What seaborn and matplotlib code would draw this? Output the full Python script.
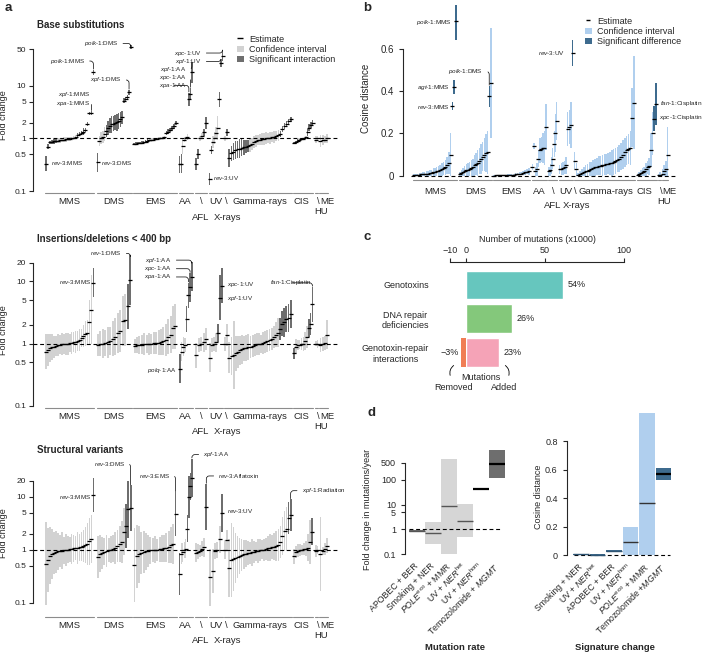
import numpy as np
import pandas as pd
import seaborn as sns
import matplotlib.pyplot as plt
from matplotlib.patches import Patch, FancyArrowPatch
from matplotlib.lines import Line2D
import matplotlib.transforms as mtransforms

# ---------------- data ----------------
groups = ["MMS", "DMS", "EMS", "AA", "AFL", "UV", "X-rays", "Gamma-rays", "CIS", "HU", "ME"]

# panel a: fold change estimates per group (sorted) and CI fold (est/ci .. est*ci)
sub_est = [
    [0.33, 0.7, 0.84, 0.86, 0.88, 0.9, 0.91, 0.92, 0.93, 0.95, 0.96, 0.97, 0.98, 1.0, 1.02, 1.05, 1.15, 1.22, 1.28, 1.35, 1.45, 1.9, 3.0, 3.05, 18],
    [0.35, 0.9, 1.0, 1.05, 1.2, 1.4, 1.6, 1.75, 1.85, 1.9, 2.0, 2.05, 2.15, 2.3, 2.5, 5.2, 5.5, 6.0, 7.5, 55],
    [0.78, 0.8, 0.81, 0.82, 0.83, 0.85, 0.87, 0.9, 0.92, 0.94, 0.95, 0.97, 0.98, 1.0, 1.0, 1.02, 1.05, 1.25, 1.35, 1.45, 1.55, 1.7, 1.95],
    [0.32, 0.33, 0.72, 0.95, 1.0, 1.05, 5.5, 7.0, 18],
    [0.33, 0.5, 1.0, 1.1, 1.3, 2.0],
    [0.17, 0.6, 0.85, 1.0, 1.25, 1.6, 5.5, 27, 37],
    [1.0, 1.3],
    [0.42, 0.52, 0.56, 0.6, 0.62, 0.64, 0.66, 0.68, 0.7, 0.72, 0.76, 0.8, 0.85, 0.88, 0.92, 0.95, 0.97, 0.99, 1.0, 1.02, 1.04, 1.06, 1.08, 1.1, 1.14, 1.2, 1.5, 1.7, 1.9, 2.1, 2.3],
    [0.82, 0.84, 0.9, 0.95, 0.97, 0.98, 1.0, 1.05, 1.3, 1.6, 1.8, 2.0],
    [0.95, 1.0],
    [0.88, 0.92, 0.95, 1.0],
]
sub_ci = [
    [1.4, 1.12, 1.08, 1.08, 1.1, 1.1, 1.1, 1.12, 1.1, 1.1, 1.12, 1.1, 1.1, 1.08, 1.08, 1.1, 1.12, 1.1, 1.1, 1.15, 1.1, 1.1, 1.08, 1.08, 1.12],
    [1.5, 1.25, 1.3, 1.3, 1.35, 1.3, 1.35, 1.4, 1.45, 1.4, 1.4, 1.45, 1.4, 1.4, 1.35, 1.12, 1.12, 1.1, 1.12, 1.08],
    [1.06, 1.06, 1.05, 1.05, 1.06, 1.06, 1.08, 1.08, 1.1, 1.1, 1.08, 1.06, 1.05, 1.05, 1.05, 1.06, 1.08, 1.1, 1.1, 1.1, 1.1, 1.12, 1.08],
    [1.45, 1.5, 1.4, 1.1, 1.05, 1.15, 1.35, 1.3, 1.6],
    [1.3, 1.25, 1.1, 1.15, 1.15, 1.3],
    [1.3, 1.2, 1.3, 1.3, 1.3, 1.7, 1.4, 1.2, 1.25],
    [1.1, 1.15],
    [1.5, 1.4, 1.45, 1.5, 1.45, 1.5, 1.45, 1.4, 1.35, 1.3, 1.35, 1.3, 1.3, 1.3, 1.25, 1.25, 1.3, 1.3, 1.3, 1.25, 1.3, 1.25, 1.3, 1.25, 1.25, 1.15, 1.15, 1.15, 1.12, 1.12, 1.1],
    [1.06, 1.06, 1.08, 1.06, 1.05, 1.04, 1.04, 1.06, 1.15, 1.15, 1.12, 1.1],
    [1.15, 1.12],
    [1.3, 1.25, 1.15, 1.2],
]

ind_est = [
    [0.75, 0.8, 0.85, 0.88, 0.9, 0.93, 0.95, 0.97, 0.98, 1.0, 1.0, 1.0, 1.02, 1.03, 1.05, 1.07, 1.1, 1.15, 1.25, 1.35, 1.45, 1.5, 2.2, 3.5, 9.5],
    [0.95, 1.0, 1.0, 1.02, 1.05, 1.1, 1.2, 1.3, 1.5, 1.6, 2.3, 2.4, 4.0, 10.5],
    [0.93, 0.95, 0.96, 0.97, 0.98, 1.0, 1.0, 1.0, 1.01, 1.02, 1.04, 1.06, 1.1, 1.15, 1.3, 1.4, 1.8, 1.9],
    [0.4, 0.75, 0.9, 0.95, 2.5, 6.0, 8.0, 12.0],
    [0.65, 0.95, 1.0, 1.05, 1.2],
    [0.6, 0.95, 1.0, 1.05, 1.5, 5.5, 8.5],
    [1.0, 1.4],
    [0.6, 0.63, 0.66, 0.7, 0.74, 0.78, 0.81, 0.84, 0.86, 0.88, 0.9, 0.93, 0.96, 0.98, 1.0, 1.0, 1.02, 1.05, 1.1, 1.15, 1.2, 1.3, 1.4, 1.5, 1.7, 2.1, 2.2, 2.5, 2.6, 3.0],
    [0.7, 0.9, 0.95, 0.97, 1.0, 1.0, 1.1, 1.3, 1.8, 2.1, 4.3],
    [1.0, 1.0],
    [0.95, 1.0, 1.02, 1.4],
]
ind_ci = [
    [1.9, 1.8, 1.7, 1.6, 1.5, 1.45, 1.5, 1.4, 1.5, 1.45, 1.5, 1.5, 1.4, 1.5, 1.45, 1.5, 1.45, 1.5, 1.4, 1.5, 1.6, 1.6, 2.3, 3.6, 1.7],
    [1.5, 1.6, 1.7, 1.6, 1.8, 1.7, 1.9, 2.0, 2.1, 2.2, 2.5, 2.6, 2.3, 2.5],
    [1.3, 1.35, 1.4, 1.4, 1.5, 1.4, 1.5, 1.45, 1.5, 1.5, 1.6, 1.6, 1.7, 1.8, 1.9, 2.0, 2.2, 2.3],
    [1.7, 1.4, 1.4, 1.3, 1.6, 1.6, 1.7, 1.7],
    [1.6, 1.3, 1.3, 1.4, 1.5],
    [1.7, 1.3, 1.3, 1.4, 1.4, 2.3, 1.9],
    [1.3, 1.5],
    [1.8, 2.0, 3.5, 1.9, 1.8, 1.7, 1.7, 1.6, 1.6, 1.6, 1.5, 1.5, 1.5, 1.5, 1.5, 1.4, 1.5, 1.5, 1.5, 1.5, 1.5, 1.5, 1.6, 1.7, 1.5, 1.6, 1.7, 1.6, 1.7, 1.7],
    [1.22, 1.3, 1.2, 1.2, 1.25, 1.3, 1.4, 1.5, 1.4, 1.5, 1.9],
    [1.1, 1.15],
    [1.3, 1.3, 1.3, 1.7],
]

sv_est = [
    [0.55, 0.65, 0.78, 0.83, 0.87, 0.9, 0.93, 0.95, 0.97, 0.98, 1.0, 1.0, 1.02, 1.04, 1.06, 1.08, 1.1, 1.12, 1.15, 1.2, 1.25, 1.3, 1.45, 1.6, 11.0],
    [0.72, 0.85, 0.88, 0.92, 0.96, 1.0, 1.0, 1.05, 1.1, 1.2, 1.3, 1.4, 2.2, 2.8, 5.8, 6.1],
    [0.52, 0.75, 0.82, 0.87, 0.9, 0.93, 0.96, 0.98, 1.0, 1.0, 1.0, 1.02, 1.04, 1.06, 1.1, 1.15, 1.22, 1.3, 4.7],
    [0.35, 0.85, 0.9, 1.0, 1.05, 2.5, 10.0, 16.0, 23.0],
    [0.88, 0.92, 0.96, 1.05, 1.12, 6.5],
    [0.3, 0.4, 0.95, 1.0, 1.6, 5.0],
    [1.0, 1.5],
    [0.45, 0.65, 0.68, 0.7, 0.73, 0.76, 0.79, 0.82, 0.84, 0.86, 0.88, 0.9, 0.92, 0.94, 0.96, 0.98, 1.0, 1.0, 1.03, 1.06, 1.1, 1.12, 1.15, 1.18, 1.25, 1.4, 1.8, 2.3, 2.5, 4.0, 4.5],
    [0.75, 0.9, 0.97, 1.0, 1.0, 1.02, 1.05, 1.1, 1.4, 2.2],
    [0.95, 1.0],
    [0.82, 0.95, 1.05, 1.2],
]
sv_ci = [
    [6, 4, 3.5, 3.0, 2.5, 2.5, 2.2, 2.0, 2.2, 1.8, 2.0, 1.8, 1.7, 1.9, 1.8, 1.7, 2.0, 1.8, 1.9, 2.0, 2.2, 2.5, 2.8, 2.8, 2.1],
    [2.5, 2.2, 2.0, 1.8, 2.0, 1.7, 1.8, 1.8, 2.0, 2.0, 2.2, 2.5, 2.8, 2.6, 3.5, 2.7],
    [5, 4, 3.5, 2.5, 2.5, 2.2, 2.0, 1.8, 1.7, 1.8, 1.6, 1.7, 1.8, 1.8, 1.9, 2.0, 2.2, 2.4, 2.6],
    [2.5, 1.6, 1.5, 1.4, 1.5, 1.8, 2.5, 1.8, 2.3],
    [1.5, 1.4, 1.3, 1.4, 1.5, 2.7],
    [3.5, 2.6, 1.4, 1.4, 1.8, 2.3],
    [1.5, 1.6],
    [3.5, 5, 4, 3, 2.5, 2.2, 2.0, 1.9, 1.8, 1.7, 1.6, 1.8, 1.6, 1.5, 1.7, 1.6, 1.5, 1.6, 1.6, 1.7, 1.8, 1.7, 1.8, 1.9, 2.0, 2.0, 2.3, 2.4, 2.6, 2.0, 2.0],
    [1.4, 1.3, 1.3, 1.3, 1.25, 1.3, 1.4, 1.8, 2.6, 1.8],
    [1.3, 1.2],
    [5, 1.2, 1.3, 1.4],
]

# panel b: cosine distance estimate and CI half width
cos_est = [
    [0.002, 0.003, 0.004, 0.005, 0.006, 0.007, 0.008, 0.009, 0.01, 0.012, 0.014, 0.016, 0.018, 0.02, 0.022, 0.025, 0.03, 0.035, 0.04, 0.05, 0.06, 0.1, 0.33, 0.42, 0.73],
    [0.008, 0.012, 0.016, 0.02, 0.025, 0.028, 0.03, 0.035, 0.04, 0.05, 0.055, 0.06, 0.07, 0.08, 0.09, 0.1, 0.105, 0.11, 0.375, 0.44],
    [0.0005, 0.001, 0.001, 0.0015, 0.002, 0.002, 0.0025, 0.003, 0.003, 0.004, 0.005, 0.006, 0.007, 0.008, 0.01, 0.012, 0.015, 0.018, 0.02],
    [0.04, 0.14, 0.02, 0.03, 0.08, 0.12, 0.125, 0.13, 0.13, 0.23],
    [0.02, 0.025, 0.05, 0.08, 0.15, 0.2, 0.26],
    [0.03, 0.032, 0.035, 0.04, 0.05, 0.22, 0.23, 0.24, 0.58],
    [0.07, 0.03],
    [0.004, 0.008, 0.012, 0.016, 0.02, 0.024, 0.028, 0.032, 0.036, 0.04, 0.043, 0.046, 0.048, 0.05, 0.052, 0.054, 0.056, 0.058, 0.06, 0.065, 0.07, 0.075, 0.08, 0.09, 0.1, 0.11, 0.12, 0.125, 0.13, 0.275, 0.345],
    [0.002, 0.008, 0.012, 0.016, 0.02, 0.03, 0.04, 0.045, 0.12, 0.2, 0.27, 0.34],
    [0.002, 0.005],
    [0.01, 0.02, 0.03, 0.1],
]
cos_hw = [
    [0.004, 0.005, 0.006, 0.008, 0.008, 0.01, 0.01, 0.012, 0.012, 0.015, 0.015, 0.02, 0.02, 0.02, 0.025, 0.025, 0.03, 0.03, 0.035, 0.04, 0.05, 0.1, 0.02, 0.035, 0.09],
    [0.01, 0.015, 0.02, 0.025, 0.03, 0.03, 0.035, 0.04, 0.04, 0.05, 0.05, 0.06, 0.06, 0.07, 0.07, 0.08, 0.09, 0.1, 0.05, 0.26],
    [0.001, 0.001, 0.001, 0.0015, 0.002, 0.002, 0.002, 0.003, 0.003, 0.004, 0.005, 0.005, 0.006, 0.007, 0.008, 0.008, 0.01, 0.012, 0.015],
    [0.015, 0.015, 0.02, 0.03, 0.04, 0.06, 0.06, 0.07, 0.08, 0.11],
    [0.02, 0.03, 0.04, 0.05, 0.06, 0.09, 0.09],
    [0.02, 0.03, 0.03, 0.03, 0.04, 0.08, 0.08, 0.11, 0.06],
    [0.04, 0.03],
    [0.01, 0.015, 0.02, 0.025, 0.03, 0.03, 0.035, 0.035, 0.04, 0.04, 0.04, 0.045, 0.045, 0.05, 0.05, 0.05, 0.05, 0.055, 0.06, 0.06, 0.06, 0.06, 0.065, 0.065, 0.07, 0.07, 0.07, 0.07, 0.08, 0.14, 0.22],
    [0.004, 0.01, 0.015, 0.02, 0.02, 0.03, 0.03, 0.04, 0.08, 0.1, 0.06, 0.1],
    [0.005, 0.01],
    [0.02, 0.03, 0.04, 0.13],
]

# panel c
c_labels = ["Genotoxins", "DNA repair\ndeficiencies", "Genotoxin-repair\ninteractions"]
c_added = [61.5, 29.2, 21.0]
c_removed = [0.0, 0.0, -2.9]
c_pct = ["54%", "26%", "23%"]
c_removed_pct = "\u22123%"

# panel d
d_rate_labels = ["APOBEC + BER", "Smoking + NER", r"$\mathit{POLE}^{\rm exo}$ + MMR",
                 r"UV + $\mathit{NER}^{\rm het}$", r"UV + $\mathit{NER}^{\rm hom}$", r"Temozolomide + $\mathit{MGMT}$"]
d_rate_est = [0.87, 0.73, 8.9, 2.3, 42, 460]
d_rate_lo = [0.8, 0.27, 0.105, 0.5, 38, 125]
d_rate_hi = [0.95, 2.0, 700, 10.5, 48, 1600]
d_rate_sig = [True, False, False, False, True, True]

d_sig_labels = ["Smoking + NER", r"UV + $\mathit{NER}^{\rm het}$", "APOBEC + BER",
                r"UV + $\mathit{NER}^{\rm hom}$", r"$\mathit{POLE}^{\rm exo}$ + MMR", r"Temozolomide +$\mathit{MGMT}$"]
d_sig_est = [0.004, 0.002, 0.028, 0.091, 0.363, 0.567]
d_sig_lo = [0.0, 0.0, 0.024, 0.0, 0.0, 0.53]
d_sig_hi = [0.008, 0.004, 0.034, 0.2, 1.0, 0.61]
d_sig_sig = [True, True, True, False, False, True]

# ---------------- layout ----------------
W, H = 706, 654
a_spans = [(135, 283), (290, 395), (400, 530), (537, 578), (585, 622), (627, 670),
           (673, 683), (685, 875), (880, 940), (945, 955), (958, 985)]
b_spans = [(160, 290), (297, 395), (400, 510), (515, 560), (565, 592), (597, 640),
           (643, 650), (652, 825), (830, 890), (893, 903), (905, 925)]

GREY_L, GREY_D = "#d2d2d2", "#6e6e6e"
BLUE_L, BLUE_D = "#b0cfee", "#3e6b8e"
NOTE_FS = 4.5

sns.set_theme(style="ticks")
plt.rcParams["font.family"] = ["Liberation Sans", "DejaVu Sans"]
plt.rcParams["mathtext.fontset"] = "custom"
plt.rcParams["mathtext.rm"] = "Liberation Sans"
plt.rcParams["mathtext.it"] = "Liberation Sans:italic"
plt.rcParams["mathtext.bf"] = "Liberation Sans:bold"
plt.rcParams["axes.linewidth"] = 0.8
plt.rcParams["xtick.major.width"] = 0.8
plt.rcParams["ytick.major.width"] = 0.8
plt.rcParams["xtick.major.size"] = 3
plt.rcParams["ytick.major.size"] = 3

fig = plt.figure(figsize=(W / 100, H / 100), dpi=100)


def px_axes(l, t, r, b):
    return fig.add_axes([l / W, 1 - b / H, (r - l) / W, (b - t) / H])


def build(est, err, spans, log=True):
    rows = []
    for g, ev, cv, (s, e) in zip(groups, est, err, spans):
        assert len(ev) == len(cv), g
        step = (e - s) / len(ev)
        for i, (v, c) in enumerate(zip(ev, cv)):
            lo, hi = (v / c, v * c) if log else (max(0.0, v - c), v + c)
            rows.append(dict(group=g, idx=i, n=len(ev), x=s + (i + 0.5) * step,
                             est=v, lo=lo, hi=hi, w=step * 0.85))
    return pd.DataFrame(rows)


def pick(df, grp, idx):
    sub = df[df.group == grp]
    return sub.iloc[idx]


def draw_points(ax, df, light, dark):
    for flag, col in [(False, light), (True, dark)]:
        d = df[df.sig == flag]
        ax.bar(d.x, d.hi - d.lo, bottom=d.lo, width=d.w, color=col, linewidth=0, zorder=2)
    sns.scatterplot(data=df, x="x", y="est", marker="_", color="black", s=9,
                    linewidth=0.9, ax=ax, legend=False, zorder=4)
    ax.set_xlabel("")
    ax.set_ylabel("")


def group_axis(ax, spans, t_px, b_px, seg_px, r1, r2, rhu, fs, me_dx=9):
    def fr(y):
        return (b_px - y) / (b_px - t_px)
    tr = mtransforms.blended_transform_factory(ax.transData, ax.transAxes)
    for g, (s, e) in zip(groups, spans):
        ax.plot([s, e], [fr(seg_px)] * 2, color="#8c8c8c", lw=0.8, transform=tr, clip_on=False)
        c = (s + e) / 2
        if g in ("AFL", "X-rays"):
            ax.text(c, fr(seg_px + r1), "\\", transform=tr, ha="center", va="center", fontsize=fs)
            ax.text(c + (0 if g == "AFL" else 4), fr(seg_px + r2), g, transform=tr, ha="center", va="center", fontsize=fs)
        elif g == "HU":
            ax.text(c + 6, fr(seg_px + r1), "\\", transform=tr, ha="center", va="center", fontsize=fs)
            ax.text(c + 14, fr(seg_px + rhu), g, transform=tr, ha="center", va="center", fontsize=fs)
        elif g == "ME":
            ax.text(c + me_dx, fr(seg_px + r1), g, transform=tr, ha="center", va="center", fontsize=fs)
        elif g == "CIS":
            ax.text(c - 6, fr(seg_px + r1), g, transform=tr, ha="center", va="center", fontsize=fs)
        else:
            ax.text(c, fr(seg_px + r1), g, transform=tr, ha="center", va="center", fontsize=fs)


def glabel(gene, cond):
    a, b = gene.split("-")
    return rf"$\mathit{{{a}}}$-$\mathit{{{b}}}$:{cond}"


def note(ax, df, gene, cond, grp, idx, tx, ty, ha, line, fs=NOTE_FS):
    r = pick(df, grp, idx)
    lab = glabel(gene, cond)
    if line:
        ax.annotate(lab, xy=(r.x, r.hi), xytext=(tx, ty), ha=ha, va="center", fontsize=fs,
                    annotation_clip=False, zorder=5,
                    arrowprops=dict(arrowstyle="-", lw=0.5, color="black", shrinkA=1, shrinkB=0.5,
                                    connectionstyle="angle,angleA=0,angleB=90,rad=3"))
    else:
        ax.text(tx, ty, lab, ha=ha, va="center", fontsize=fs, zorder=5)


# ---------------- panel a ----------------
a_specs = [
    ("Base substitutions", sub_est, sub_ci, (33, 36, 330, 195), 193, (0.084, 88.5), [0.1, 0.5, 1, 2, 5, 10, 50], 25),
    ("Insertions/deletions < 400 bp", ind_est, ind_ci, (33, 252, 330, 409), 407.7, (0.0895, 29.7), [0.1, 0.5, 1, 2, 5, 10, 20], 239),
    ("Structural variants", sv_est, sv_ci, (33, 455, 330, 612), 616.7, (0.0667, 62), [0.1, 0.5, 1, 2, 5, 10, 20], 450),
]
a_axes = []
a_dfs = []
for title, est, ci, (l, t, r, b), seg, ylim, ticks, ty in a_specs:
    ax = px_axes(l, t, r, b)
    df = build(est, ci, a_spans, log=True)
    df["sig"] = (df.lo > 1) | (df.hi < 1)
    draw_points(ax, df, GREY_L, GREY_D)
    ax.set_yscale("log")
    ax.set_ylim(*ylim)
    ax.set_xlim(99, 990)
    ax.axhline(1, color="black", lw=0.8, ls=(0, (3.5, 2.5)), xmin=0, xmax=1.03, clip_on=False, zorder=3)
    ax.set_yticks(ticks)
    ax.set_yticklabels([f"{v:g}" for v in ticks], fontsize=6)
    ax.yaxis.set_minor_locator(plt.NullLocator())
    ax.set_xticks([])
    for s in ["top", "right", "bottom"]:
        ax.spines[s].set_visible(False)
    ax.spines["left"].set_bounds(ticks[0], ticks[-1])
    ax.tick_params(axis="y", pad=2)
    ax.set_ylabel("Fold change", fontsize=6.5)
    ax.yaxis.set_label_coords(-0.085, 0.5)
    group_axis(ax, a_spans, t, b, seg, 9, 24, 19, 6.8)
    fig.text(37 / W, 1 - ty / H, title, fontsize=7, weight="bold", va="center")
    a_axes.append(ax)
    a_dfs.append(df)

ax, df = a_axes[0], a_dfs[0]
note(ax, df, "polk-1", "DMS", "DMS", -1, 355, 64, "right", True)
note(ax, df, "polk-1", "MMS", "MMS", -1, 255, 29.6, "right", True)
note(ax, df, "xpf-1", "DMS", "DMS", -2, 365, 12.9, "right", True)
note(ax, df, "xpf-1", "MMS", "MMS", -2, 270, 6.8, "right", True)
note(ax, df, "xpa-1", "MMS", "MMS", -3, 270, 4.7, "right", True)
note(ax, df, "rev-3", "MMS", "MMS", 0, 152, 0.335, "left", False)
note(ax, df, "rev-3", "DMS", "DMS", 0, 303, 0.34, "left", False)
note(ax, df, "xpc-1", "UV", "UV", -1, 605, 42, "right", True)
note(ax, df, "xpf-1", "UV", "UV", -2, 605, 29, "right", True)
note(ax, df, "xpf-1", "AA", "AA", -1, 560, 20.5, "right", True)
note(ax, df, "xpc-1", "AA", "AA", -2, 560, 14.5, "right", True)
note(ax, df, "xpa-1", "AA", "AA", -3, 560, 10.2, "right", True)
note(ax, df, "rev-3", "UV", "UV", 0, 640, 0.174, "left", False)

ax, df = a_axes[1], a_dfs[1]
note(ax, df, "rev-1", "DMS", "DMS", -1, 365, 28.2, "right", True)
note(ax, df, "rev-3", "MMS", "MMS", -1, 275, 9.7, "right", False)
note(ax, df, "xpf-1", "AA", "AA", -1, 515, 22, "right", True)
note(ax, df, "xpc-1", "AA", "AA", -2, 515, 16, "right", True)
note(ax, df, "xpa-1", "AA", "AA", -3, 515, 11.8, "right", True)
note(ax, df, "xpc-1", "UV", "UV", -1, 680, 8.8, "left", False)
note(ax, df, "xpf-1", "UV", "UV", -2, 680, 5.35, "left", False)
note(ax, df, "fan-1", "Cisplatin", "CIS", -1, 935, 9.5, "right", True)
note(ax, df, "polq-1", "AA", "AA", 0, 530, 0.37, "right", False)

ax, df = a_axes[2], a_dfs[2]
note(ax, df, "rev-3", "DMS", "DMS", -1, 375, 41.9, "right", True)
note(ax, df, "rev-3", "MMS", "MMS", -1, 275, 10.1, "right", False)
note(ax, df, "rev-3", "EMS", "EMS", -1, 510, 24.9, "right", True)
note(ax, df, "xpf-1", "AA", "AA", -1, 610, 63, "left", True)
note(ax, df, "rev-3", "Aflatoxin", "AFL", -1, 655, 24.9, "left", True)
note(ax, df, "rev-3", "UV", "UV", -1, 680, 5.3, "left", False)
note(ax, df, "xpf-1", "Radiation", "Gamma-rays", -1, 905, 13.1, "left", True)

a_axes[0].legend(
    handles=[Line2D([], [], marker="_", color="black", ls="None", markersize=4, markeredgewidth=1),
             Patch(facecolor=GREY_L, edgecolor="none"), Patch(facecolor=GREY_D, edgecolor="none")],
    labels=["Estimate", "Confidence interval", "Significant interaction"],
    loc="upper left", bbox_to_anchor=(232 / W, 1 - 30 / H), bbox_transform=fig.transFigure,
    frameon=False, fontsize=6.5, handlelength=0.8, handleheight=0.7, handletextpad=0.6,
    labelspacing=0.15, borderpad=0)

# ---------------- panel b ----------------
axb = px_axes(403, 5, 680, 182)
dfb = build(cos_est, cos_hw, b_spans, log=False)
dfb["sig"] = False
b_notes = [
    ("polk-1", "MMS", "MMS", -1, 275, 0.727, "right", False),
    ("agt-1", "MMS", "MMS", -2, 270, 0.417, "right", False),
    ("rev-3", "MMS", "MMS", -3, 270, 0.327, "right", False),
    ("polk-1", "DMS", "DMS", -2, 370, 0.493, "right", True),
    ("rev-3", "UV", "UV", -1, 615, 0.58, "right", False),
    ("fan-1", "Cisplatin", "CIS", -1, 900, 0.343, "left", False),
    ("xpc-1", "Cisplatin", "CIS", -2, 897, 0.275, "left", False),
]
for gene, cond, grp, idx, *_ in b_notes:
    sub = dfb[dfb.group == grp]
    dfb.loc[sub.index[idx], "sig"] = True
draw_points(axb, dfb, BLUE_L, BLUE_D)
axb.set_xlim(129, 960)
axb.set_ylim(-0.03, 0.808)
axb.axhline(0, color="black", lw=0.8, ls=(0, (3.5, 2.5)), xmin=0.03, xmax=0.99, zorder=3)
axb.set_yticks([0, 0.2, 0.4, 0.6])
axb.set_yticklabels(["0", "0.2", "0.4", "0.6"], fontsize=7)
axb.set_xticks([])
for s in ["top", "right", "bottom"]:
    axb.spines[s].set_visible(False)
axb.spines["left"].set_bounds(0, 0.6)
axb.set_ylabel("Cosine distance", fontsize=7)
axb.yaxis.set_label_coords(-0.115, 0.47)
group_axis(axb, b_spans, 5, 182, 180, 12, 26, 22, 6.8, me_dx=13)
for gene, cond, grp, idx, tx, ty, ha, line in b_notes:
    note(axb, dfb, gene, cond, grp, idx, tx, ty, ha, line, fs=4.6)
axb.legend(
    handles=[Line2D([], [], marker="_", color="black", ls="None", markersize=3, markeredgewidth=1),
             Patch(facecolor=BLUE_L, edgecolor="none"), Patch(facecolor=BLUE_D, edgecolor="none")],
    labels=["Estimate", "Confidence interval", "Significant difference"],
    loc="upper left", bbox_to_anchor=(580 / W, 1 - 12 / H), bbox_transform=fig.transFigure,
    frameon=False, fontsize=6.5, handlelength=0.8, handleheight=0.7, handletextpad=0.6,
    labelspacing=0.15, borderpad=0)

# ---------------- panel c ----------------
axc = px_axes(450, 261.7, 624.3, 370)
c_colors = ["#66c6be", "#84c87b", "#f5a3b7"]
sns.barplot(x=c_added, y=c_labels, hue=c_labels, palette=c_colors, legend=False,
            width=0.85, orient="h", saturation=1, ax=axc)
axc.barh(range(len(c_removed)), c_removed, height=0.85, color="#f07d55", linewidth=0)
axc.set_xlim(-10, 100)
axc.set_ylim(2.525, -0.69)
axc.xaxis.tick_top()
axc.xaxis.set_label_position("top")
axc.set_xticks([-10, 0, 50, 100])
axc.set_xticklabels(["\u221210", "0", "50", "100"], fontsize=6.5)
axc.tick_params(axis="x", pad=1.5)
axc.set_xlabel("Number of mutations (x1000)", fontsize=6.5, labelpad=3)
for s in ["bottom", "right", "left"]:
    axc.spines[s].set_visible(False)
axc.spines["top"].set_bounds(-10, 100)
axc.tick_params(axis="y", length=0, pad=15, labelsize=6.5)
for tl in axc.get_yticklabels():
    tl.set_multialignment("center")
axc.set_ylabel("")
for i, (v, p) in enumerate(zip(c_added, c_pct)):
    axc.text(v + 2.5, i, p, va="center", ha="left", fontsize=6.5)
axc.text(c_removed[2] - 1.2, 2, c_removed_pct, va="center", ha="right", fontsize=6.5)


def fpt(x, y):
    return (x / W, 1 - y / H)


fig.add_artist(FancyArrowPatch(fpt(456, 364), fpt(451, 378), transform=fig.transFigure,
                               arrowstyle="-", connectionstyle="arc3,rad=0.45", lw=0.6, color="black"))
fig.add_artist(FancyArrowPatch(fpt(503, 364), fpt(508, 378), transform=fig.transFigure,
                               arrowstyle="-", connectionstyle="arc3,rad=-0.45", lw=0.6, color="black"))
fig.text(*fpt(481, 377), "Mutations", ha="center", va="center", fontsize=6.5)
fig.text(*fpt(454, 387), "Removed", ha="center", va="center", fontsize=6.5)
fig.text(*fpt(504, 387), "Added", ha="center", va="center", fontsize=6.5)

# ---------------- panel d ----------------
axd1 = px_axes(405, 440, 506, 556)
xd = np.arange(len(d_rate_est))
lo = np.array(d_rate_lo)
hi = np.array(d_rate_hi)
axd1.bar(xd, hi - lo, bottom=lo, width=0.95, linewidth=0,
         color=[GREY_D if s else "#d6d6d6" for s in d_rate_sig])
for x, v, s in zip(xd, d_rate_est, d_rate_sig):
    strong = s and v > 10
    axd1.hlines(v, x - 0.475, x + 0.475, color="black" if strong else "#555555",
                lw=1.6 if strong else 1.0, zorder=4)
axd1.set_yscale("log")
axd1.set_xlim(-0.75, 5.56)
axd1.set_ylim(0.085, 4100)
axd1.plot([-0.5, 5.2], [1, 1], color="black", lw=0.8, ls=(0, (3.5, 2.5)), zorder=3)
dt = [0.1, 1, 5, 10, 100, 500]
axd1.set_yticks(dt)
axd1.set_yticklabels([f"{v:g}" for v in dt], fontsize=6.5)
axd1.yaxis.set_minor_locator(plt.NullLocator())
axd1.spines["left"].set_bounds(0.1, 500)
axd1.set_ylabel("Fold change in mutations/year", fontsize=6.5)
axd1.yaxis.set_label_coords(-0.33, 0.4)

axd2 = px_axes(566.7, 410, 672, 557)
lo2 = np.array(d_sig_lo)
hi2 = np.array(d_sig_hi)
axd2.bar(xd, hi2 - lo2, bottom=lo2, width=0.95, linewidth=0,
         color=[BLUE_D if s else BLUE_L for s in d_sig_sig])
for x, v, s, i in zip(xd, d_sig_est, d_sig_sig, range(6)):
    col = "black" if i == 5 else ("#2f5573" if s else "#333333")
    axd2.hlines(v, x - 0.475, x + 0.475, color=col, lw=1.6 if i == 5 else 1.0, zorder=4)
axd2.set_xlim(-0.87, 5.52)
axd2.set_ylim(-0.014, 1.018)
axd2.plot([-0.4, 5.4], [0, 0], color="black", lw=0.8, ls=(0, (3.5, 2.5)), zorder=3)
axd2.set_yticks([0, 0.2, 0.4, 0.6, 0.8])
axd2.set_yticklabels(["0", "0.2", "0.4", "0.6", "0.8"], fontsize=6.5)
axd2.spines["left"].set_bounds(0, 0.8)
axd2.set_ylabel("Cosine distance", fontsize=6.5)
axd2.yaxis.set_label_coords(-0.228, 0.41)

for axd, labs in [(axd1, d_rate_labels), (axd2, d_sig_labels)]:
    for s in ["top", "right", "bottom"]:
        axd.spines[s].set_visible(False)
    axd.set_xticks(xd)
    axd.set_xticklabels(labs, rotation=45, ha="right", va="center", rotation_mode="anchor", fontsize=6.3)
    axd.tick_params(axis="x", length=0, pad=6)

fig.text(*fpt(455, 647.7), "Mutation rate", ha="center", va="center", fontsize=6.8, weight="bold")
fig.text(*fpt(615, 647.7), "Signature change", ha="center", va="center", fontsize=6.8, weight="bold")

# panel letters
for lab, x, y in [("a", 5, 8), ("b", 363, 8), ("c", 363, 237), ("d", 367, 413)]:
    fig.text(*fpt(x, y), lab, fontsize=9.5, weight="bold", ha="left", va="center")

fig.savefig("out.png", dpi=100)
